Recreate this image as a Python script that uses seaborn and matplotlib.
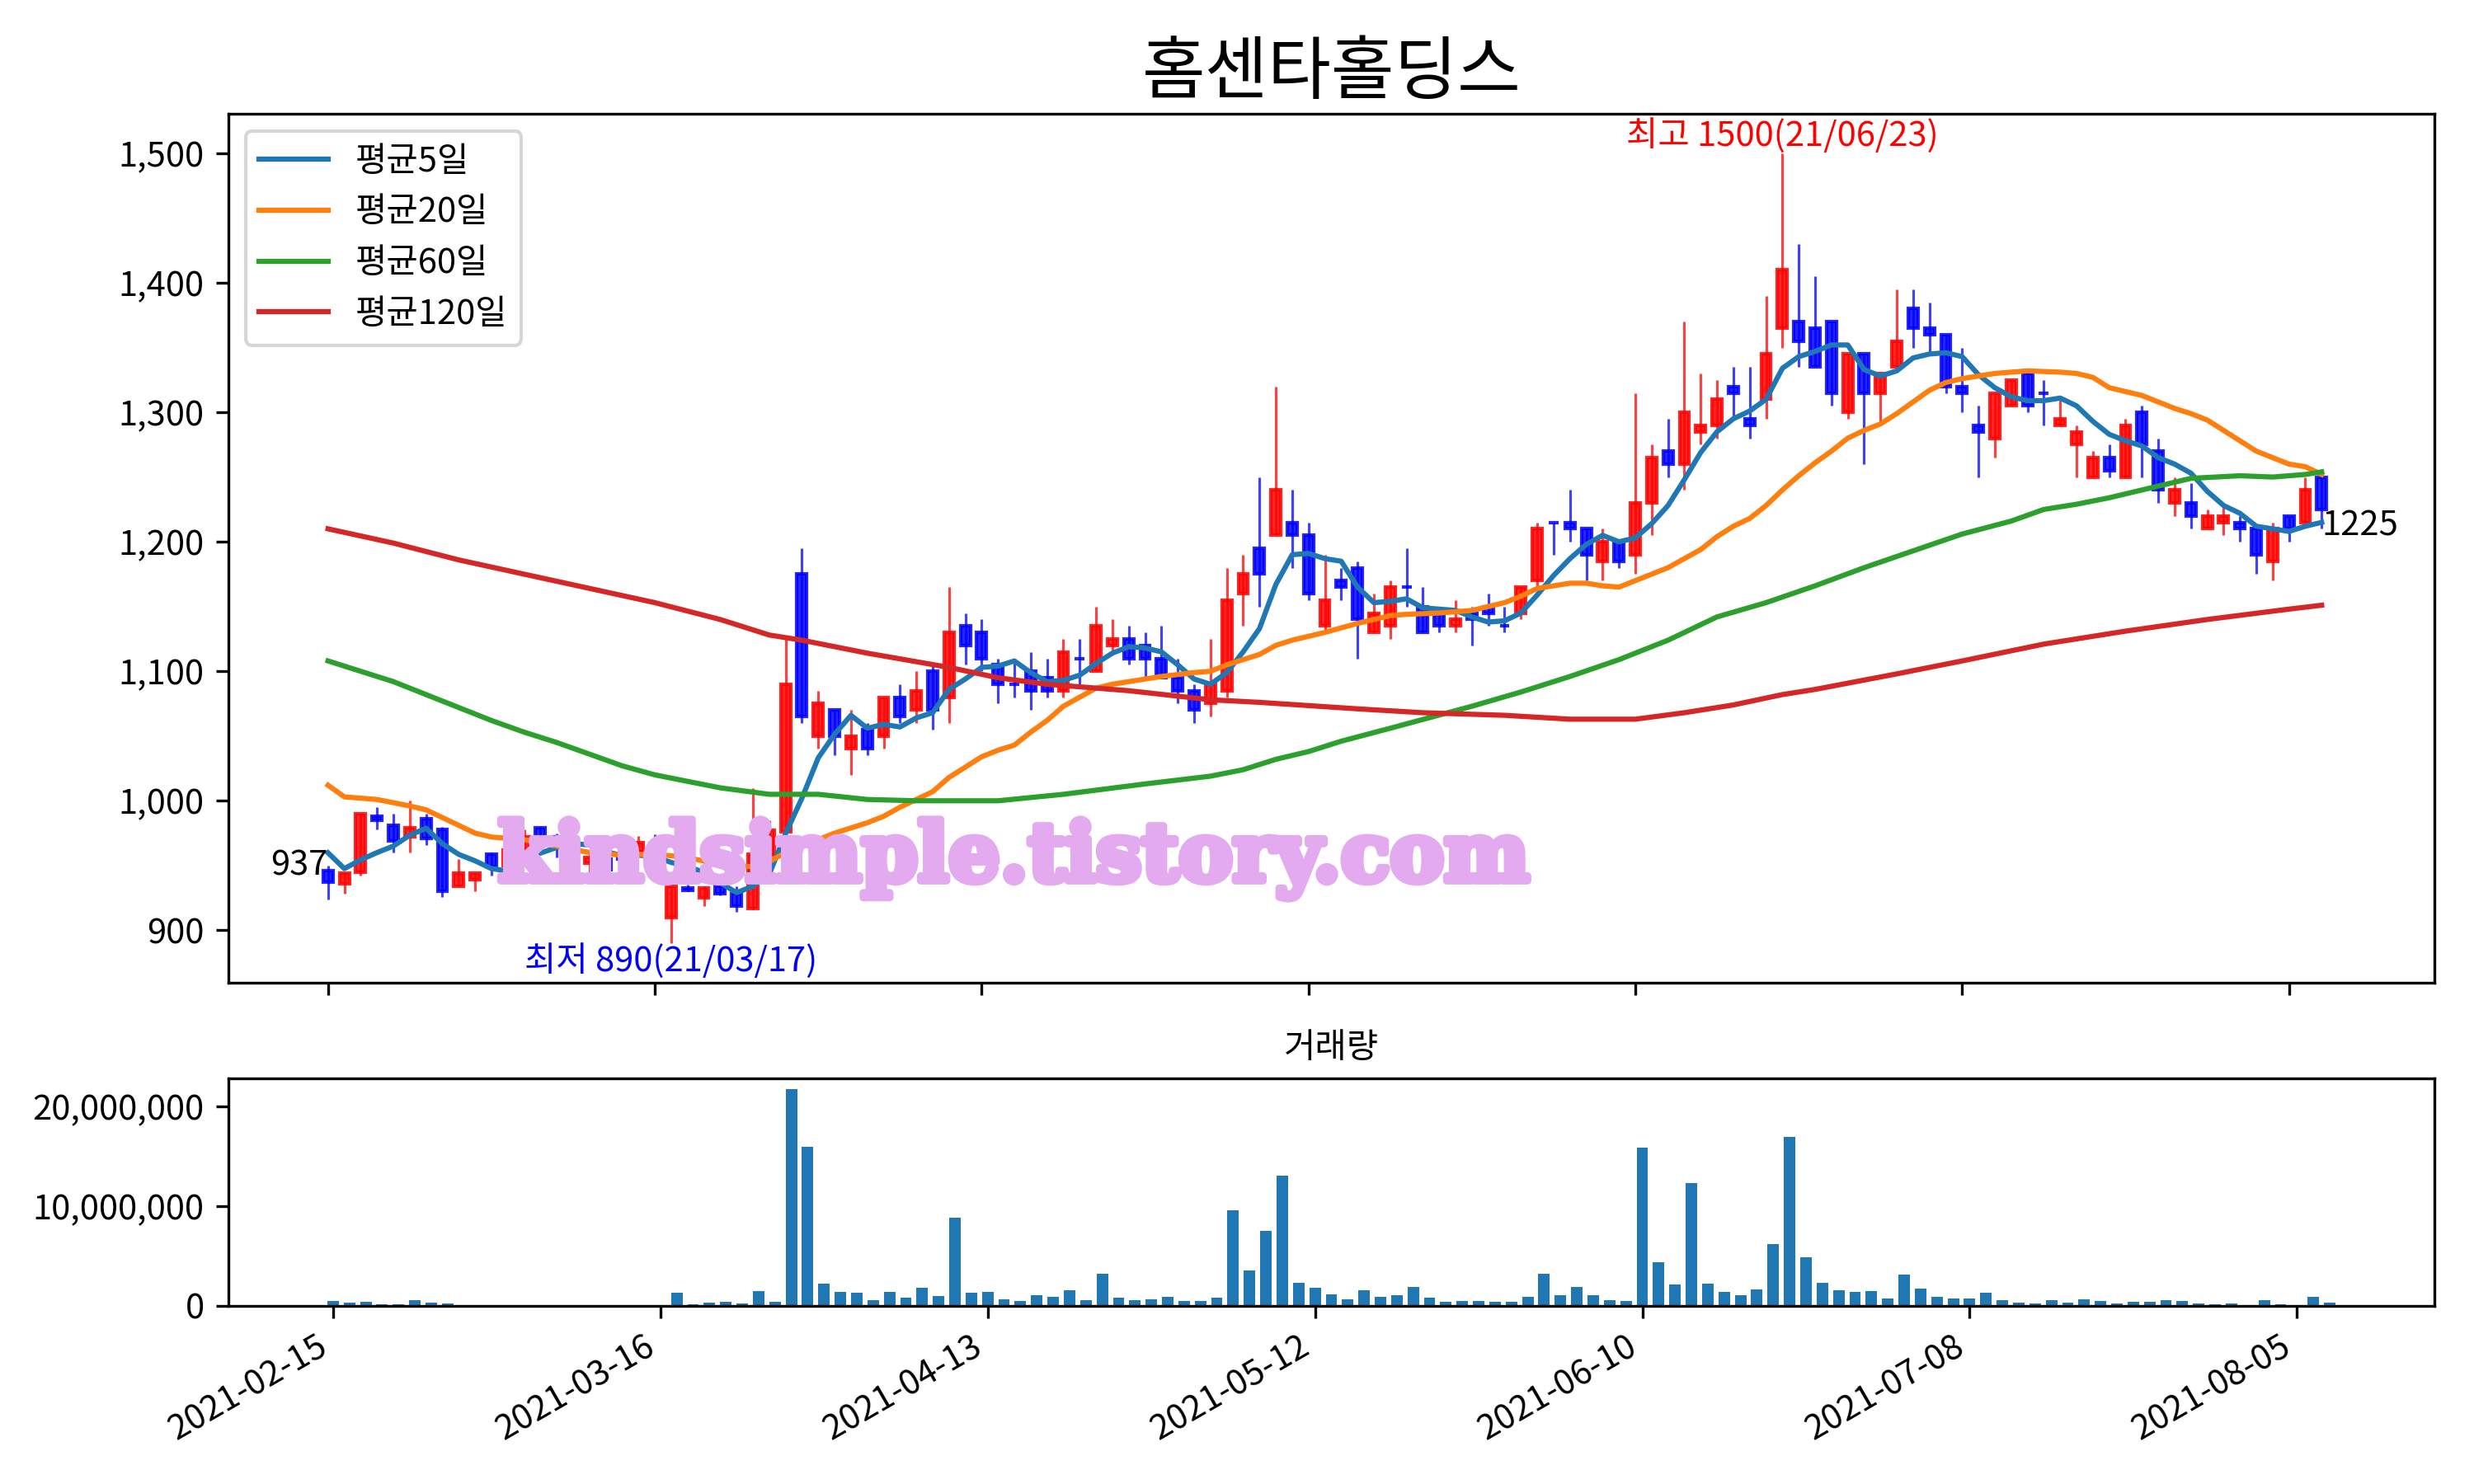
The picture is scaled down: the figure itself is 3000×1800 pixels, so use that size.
import matplotlib
matplotlib.use("Agg")
import matplotlib.pyplot as plt
import matplotlib.patheffects as pe
from matplotlib.ticker import FuncFormatter
import numpy as np
import pandas as pd
import seaborn as sns

TITLE = "홈센타홀딩스"

# daily candles (trading-day index 0..122)
opens = [946, 936, 945, 988, 981, 972, 986, 978, 934, 939,
         959, 950, 962, 979, 972, 967, 952, 955, 957, 961,
         967, 910, 933, 925, 934, 928, 917, 958, 976, 1175,
         1050, 1070, 1040, 1055, 1050, 1080, 1070, 1100, 1080, 1135,
         1130, 1105, 1090, 1100, 1095, 1085, 1110, 1100, 1120, 1125,
         1120, 1110, 1095, 1085, 1075, 1085, 1160, 1195, 1205, 1215,
         1205, 1135, 1170, 1180, 1130, 1135, 1165, 1150, 1145, 1135,
         1145, 1150, 1135, 1145, 1170, 1215, 1215, 1210, 1185, 1200,
         1190, 1230, 1270, 1260, 1285, 1290, 1320, 1295, 1310, 1365,
         1370, 1365, 1370, 1300, 1345, 1315, 1335, 1380, 1365, 1360,
         1320, 1290, 1280, 1305, 1330, 1315, 1290, 1275, 1250, 1265,
         1250, 1300, 1270, 1230, 1230, 1210, 1215, 1215, 1210, 1185,
         1220, 1215, 1250]
highs = [950, 944, 990, 995, 990, 1000, 990, 980, 955, 944,
         960, 965, 978, 980, 975, 970, 960, 957, 958, 973,
         974, 934, 935, 934, 935, 934, 1010, 985, 1125, 1195,
         1085, 1070, 1070, 1060, 1080, 1090, 1100, 1105, 1165, 1145,
         1140, 1110, 1110, 1115, 1110, 1125, 1125, 1150, 1140, 1135,
         1130, 1135, 1110, 1090, 1125, 1180, 1190, 1250, 1320, 1240,
         1215, 1190, 1180, 1185, 1160, 1170, 1195, 1165, 1150, 1155,
         1150, 1160, 1150, 1165, 1215, 1215, 1240, 1210, 1210, 1200,
         1315, 1275, 1295, 1370, 1330, 1325, 1335, 1335, 1390, 1500,
         1430, 1405, 1370, 1345, 1345, 1330, 1395, 1395, 1385, 1360,
         1350, 1305, 1315, 1325, 1330, 1325, 1310, 1290, 1270, 1275,
         1295, 1305, 1280, 1250, 1245, 1225, 1230, 1220, 1210, 1215,
         1220, 1250, 1250]
lows = [924, 928, 942, 978, 960, 960, 966, 926, 934, 930,
        942, 948, 960, 970, 956, 960, 942, 945, 945, 958,
        954, 890, 930, 919, 927, 914, 916, 955, 975, 1060,
        1040, 1035, 1020, 1035, 1040, 1060, 1060, 1055, 1060, 1105,
        1100, 1075, 1080, 1070, 1080, 1080, 1090, 1100, 1115, 1105,
        1095, 1095, 1075, 1060, 1065, 1080, 1135, 1150, 1205, 1180,
        1155, 1130, 1155, 1110, 1130, 1125, 1150, 1130, 1130, 1130,
        1120, 1135, 1130, 1140, 1165, 1190, 1200, 1170, 1170, 1180,
        1175, 1205, 1250, 1240, 1275, 1280, 1295, 1280, 1295, 1350,
        1335, 1335, 1305, 1295, 1260, 1290, 1335, 1350, 1345, 1315,
        1300, 1250, 1265, 1305, 1300, 1290, 1290, 1250, 1250, 1250,
        1250, 1250, 1230, 1220, 1210, 1210, 1205, 1200, 1175, 1170,
        1200, 1215, 1210]
closes = [937, 944, 990, 985, 969, 979, 971, 930, 944, 944,
          949, 962, 972, 971, 966, 964, 956, 947, 955, 968,
          958, 934, 931, 933, 928, 919, 959, 977, 1090, 1065,
          1075, 1050, 1050, 1040, 1080, 1065, 1085, 1070, 1130, 1120,
          1110, 1090, 1090, 1085, 1085, 1115, 1110, 1135, 1125, 1110,
          1110, 1095, 1085, 1070, 1090, 1155, 1175, 1175, 1240, 1205,
          1160, 1155, 1165, 1140, 1145, 1165, 1165, 1130, 1135, 1140,
          1140, 1145, 1135, 1165, 1210, 1215, 1210, 1190, 1200, 1185,
          1230, 1265, 1260, 1300, 1290, 1310, 1315, 1290, 1345, 1410,
          1355, 1335, 1315, 1345, 1315, 1330, 1355, 1365, 1360, 1320,
          1315, 1285, 1315, 1325, 1305, 1315, 1295, 1285, 1265, 1255,
          1290, 1275, 1240, 1240, 1220, 1220, 1220, 1210, 1190, 1210,
          1210, 1240, 1225]
# closes of the 4 sessions before the window (needed for the 5-day average)
prev_closes = [1005, 956, 957, 944]

volume = [530000, 360000, 440000, 190000, 190000, 610000, 360000, 280000, 110000, 0,
          0, 0, 0, 0, 0, 0, 0, 0, 0, 0,
          110000, 1360000, 190000, 360000, 440000, 280000, 1520000, 440000, 21700000, 15960000,
          2240000, 1410000, 1330000, 580000, 1410000, 830000, 1830000, 1000000, 8810000, 1330000,
          1410000, 660000, 500000, 1080000, 910000, 1580000, 580000, 3240000, 830000, 580000,
          660000, 910000, 500000, 500000, 830000, 9560000, 3570000, 7480000, 13050000, 2330000,
          1830000, 1190000, 660000, 1600000, 910000, 1080000, 1940000, 830000, 420000, 500000,
          500000, 420000, 420000, 910000, 3240000, 1080000, 1940000, 1080000, 580000, 500000,
          15870000, 4400000, 2160000, 12300000, 2240000, 1410000, 1080000, 1660000, 6230000, 16950000,
          4900000, 2330000, 1580000, 1410000, 1500000, 750000, 3160000, 1750000, 910000, 750000,
          750000, 1330000, 580000, 330000, 250000, 580000, 330000, 660000, 500000, 250000,
          420000, 420000, 580000, 500000, 250000, 170000, 250000, 80000, 580000, 170000,
          80000, 910000, 330000]

# longer moving averages (index, value)
ma20_idx = [0, 1, 3, 5, 6, 7, 8, 9, 10, 12, 14, 16, 18, 20, 22, 24, 26, 27, 28, 29,
            30, 31, 32, 33, 34, 35, 36, 37, 38, 39, 40, 41, 42, 43, 44, 45, 46, 47, 48, 49,
            51, 53, 54, 55, 56, 57, 58, 59, 61, 63, 65, 66, 68, 70, 72, 73, 74, 75, 76, 77,
            78, 79, 80, 81, 82, 83, 84, 85, 86, 87, 88, 89, 90, 91, 92, 93, 94, 95, 96, 97,
            98, 99, 100, 101, 102, 104, 106, 107, 108, 109, 110, 111, 112, 113, 114, 115, 116, 117, 118, 119,
            120, 121, 122]
ma20_val = [1012, 1003, 1001, 996, 993, 987, 981, 975, 972, 970, 965, 960, 958, 959, 956, 951, 949, 953, 960, 965,
            970, 975, 979, 983, 988, 995, 1001, 1007, 1018, 1026, 1034, 1039, 1043, 1053, 1062, 1073, 1080, 1087, 1090, 1092,
            1096, 1099, 1100, 1105, 1109, 1113, 1120, 1124, 1130, 1137, 1143, 1144, 1145, 1147, 1153, 1158, 1164, 1166, 1168, 1168,
            1166, 1165, 1170, 1175, 1180, 1187, 1194, 1204, 1212, 1218, 1228, 1240, 1251, 1261, 1270, 1280, 1286, 1291, 1299, 1308,
            1317, 1323, 1326, 1328, 1330, 1332, 1331, 1330, 1327, 1319, 1316, 1313, 1308, 1303, 1299, 1294, 1286, 1278, 1270, 1265,
            1260, 1258, 1252]
ma60_idx = [0, 2, 4, 6, 8, 10, 12, 14, 16, 18, 20, 22, 24, 27, 30, 33, 36, 41, 45, 50,
            54, 56, 58, 60, 62, 65, 70, 73, 76, 79, 82, 85, 88, 91, 94, 97, 100, 103, 105, 107,
            109, 112, 114, 117, 119, 121, 122]
ma60_val = [1108, 1100, 1092, 1082, 1072, 1062, 1053, 1045, 1036, 1027, 1020, 1015, 1010, 1005, 1005, 1001, 1000, 1000, 1005, 1013,
            1019, 1024, 1032, 1038, 1046, 1056, 1073, 1084, 1096, 1109, 1124, 1142, 1153, 1166, 1180, 1193, 1206, 1216, 1225, 1229,
            1234, 1243, 1249, 1251, 1250, 1252, 1254]
ma120_idx = [0, 4, 8, 12, 16, 20, 24, 27, 29, 33, 38, 41, 44, 49, 54, 57, 63, 67, 72, 76,
             80, 83, 86, 89, 91, 96, 100, 105, 110, 115, 120, 122]
ma120_val = [1210, 1199, 1186, 1175, 1164, 1153, 1140, 1128, 1124, 1114, 1103, 1095, 1090, 1085, 1078, 1076, 1071, 1068, 1066, 1063,
             1063, 1068, 1074, 1082, 1086, 1098, 1108, 1121, 1131, 1140, 1148, 1151]

tick_pos = [0, 20, 40, 60, 80, 100, 120]
tick_labels = ['2021-02-15', '2021-03-16', '2021-04-13', '2021-05-12',
               '2021-06-10', '2021-07-08', '2021-08-05']

plt.rcParams['font.family'] = ['Noto Sans CJK KR', 'DejaVu Sans']

df = pd.DataFrame({'open': opens, 'high': highs, 'low': lows, 'close': closes, 'volume': volume})
n = len(df)
x = np.arange(n)
full_close = pd.Series(prev_closes + closes)
ma5 = full_close.rolling(5).mean().iloc[len(prev_closes):].to_numpy()

fig = plt.figure(figsize=(10, 6), dpi=300)
ax1 = fig.add_axes([0.0923, 0.3378, 0.8917, 0.5855])
ax2 = fig.add_axes([0.0923, 0.12, 0.8917, 0.1533])

# candles: red up, blue down
up = (df['close'] > df['open']).to_numpy()
dn = ~up
ax1.vlines(x[up], df['low'][up], df['high'][up], color='red', alpha=0.75, lw=0.75)
ax1.vlines(x[dn], df['low'][dn], df['high'][dn], color='blue', alpha=0.75, lw=0.75)
ax1.bar(x[up], (df['close'] - df['open'])[up], bottom=df['open'][up], width=0.6,
        color='red', edgecolor='red', alpha=0.85, lw=1)
ax1.bar(x[dn], (df['open'] - df['close'])[dn], bottom=df['close'][dn], width=0.6,
        color='blue', edgecolor='blue', alpha=0.85, lw=1)

sns.lineplot(x=x, y=ma5, ax=ax1, color='tab:blue', lw=1.5, label='평균5일')
sns.lineplot(x=ma20_idx, y=ma20_val, ax=ax1, color='tab:orange', lw=1.5, label='평균20일')
sns.lineplot(x=ma60_idx, y=ma60_val, ax=ax1, color='tab:green', lw=1.5, label='평균60일')
sns.lineplot(x=ma120_idx, y=ma120_val, ax=ax1, color='tab:red', lw=1.5, label='평균120일')
ax1.legend(loc='upper left')

hi = int(np.argmax(highs))
lo = int(np.argmin(lows))
ax1.text(hi, highs[hi], '최고 %d(21/06/23)' % highs[hi], color='red', ha='center', va='bottom')
ax1.text(lo, lows[lo], '최저 %d(21/03/17)' % lows[lo], color='blue', ha='center', va='top')
ax1.text(0, closes[0], str(closes[0]), ha='right', va='bottom')
ax1.text(n - 1, closes[-1], str(closes[-1]), ha='left', va='top')

wm_color = '#e3aaf0'
ax1.text(0.356, 0.142, 'kindsimple.tistory.com', transform=ax1.transAxes,
         ha='center', va='center', fontsize=23.5, fontweight='bold',
         family='DejaVu Serif', color=wm_color, zorder=10,
         path_effects=[pe.withStroke(linewidth=2.2, foreground=wm_color)])

ax1.set_title(TITLE, fontsize=20)
ax1.set_xlim(-6.1, 128.9)
ax1.set_ylim(859.5, 1530.5)
ax1.set_xticks(tick_pos)
ax1.set_xticklabels([])
ax1.set_xlabel('')
ax1.yaxis.set_major_formatter(FuncFormatter(lambda v, p: f'{v:,.0f}'))

ax2.bar(x, df['volume'], width=0.7, color='tab:blue')
ax2.set_title('거래량', fontsize=10)
ax2.set_xlim(-6.4, 128.4)
ax2.set_yticks([0, 10000000, 20000000])
ax2.yaxis.set_major_formatter(FuncFormatter(lambda v, p: f'{v:,.0f}'))
ax2.set_xticks(tick_pos)
ax2.set_xticklabels(tick_labels, rotation=30, ha='right')

fig.savefig('out.png', dpi=300)
